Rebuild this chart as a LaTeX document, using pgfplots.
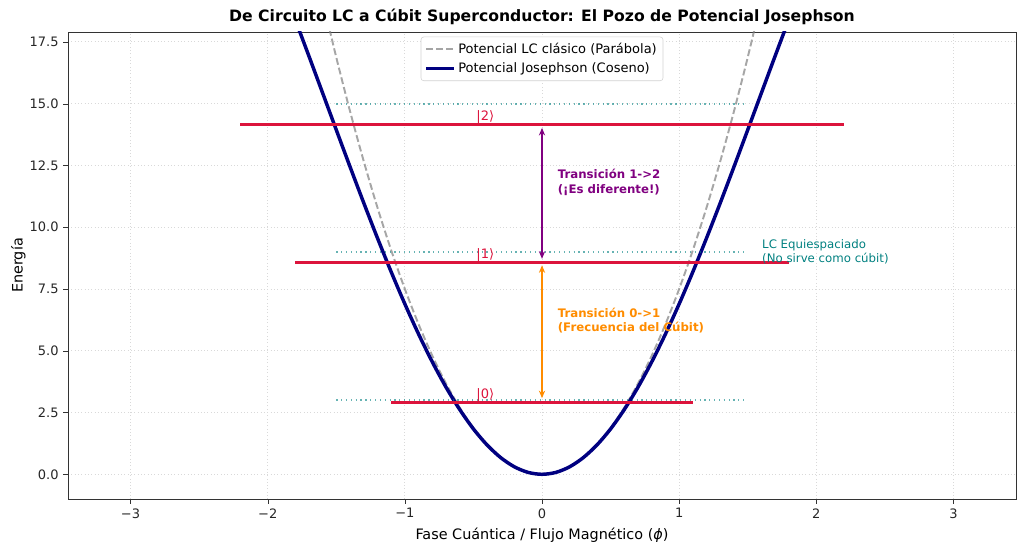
\documentclass[border=0pt]{standalone}
\usepackage{pgfplots}
\pgfplotsset{compat=1.18}
\usepackage{fontspec}
\setmainfont{DejaVu Sans}
\usetikzlibrary{arrows.meta}
\definecolor{navyc}{HTML}{000080}
\definecolor{crimsonc}{HTML}{DC143C}
\definecolor{tealc}{HTML}{008080}
\definecolor{orangec}{HTML}{FF8C00}
\definecolor{purplec}{HTML}{800080}
\begin{document}
\begin{tikzpicture}
\begin{axis}[name=ax,
  scale only axis, width=9.48in, height=4.67in,
  xmin=-3.456, xmax=3.456, ymin=-1, ymax=17.9,
  axis line style={black!80},
  tick align=outside, major tick length=3.3pt,
  xtick pos=left, ytick pos=left,
  tick style={black!80},
  xtick={-3,-2,-1,0,1,2,3},
  xticklabels={−3,−2,−1,0,1,2,3},
  ytick={0,2.5,5,7.5,10,12.5,15,17.5},
  yticklabels={0.0,2.5,5.0,7.5,10.0,12.5,15.0,17.5},
  ticklabel style={font=\fontsize{9.4}{11}\selectfont, text=black!85},
  grid=major, grid style={dotted, gray!30, line width=0.6pt},
  xlabel={Fase Cuántica / Flujo Magnético ({\itshape ϕ})},
  ylabel={Energía},
  label style={font=\fontsize{10.4}{12}\selectfont},
  ylabel style={yshift=-4pt},
  title={\bfseries De Circuito LC a Cúbit Superconductor: El Pozo de Potencial Josephson},
  title style={font=\fontsize{11.3}{13}\selectfont, yshift=-4pt},
  legend style={at={(0.5,0.99)}, anchor=north, draw=gray!35, rounded corners=2pt,
    font=\fontsize{9.4}{11}\selectfont, inner sep=2.5pt, row sep=1pt},
  legend cell align=left,
  legend image code/.code={\draw[#1] (0cm,0cm) -- (0.7cm,0cm);},
  clip=true,
]
\addplot[gray, opacity=0.7, dashed, line width=1.4pt, dash pattern=on 5pt off 2.2pt, smooth] coordinates {
(-1.6,19.2)(-1.5,16.875)(-1.4,14.7)(-1.3,12.675)(-1.2,10.8)(-1.1,9.075)(-1.0,7.5)(-0.9,6.075)(-0.8,4.8)(-0.7,3.675)(-0.6,2.7)(-0.5,1.875)(-0.4,1.2)(-0.3,0.675)(-0.2,0.3)(-0.1,0.075)(0,0)
(0.1,0.075)(0.2,0.3)(0.3,0.675)(0.4,1.2)(0.5,1.875)(0.6,2.7)(0.7,3.675)(0.8,4.8)(0.9,6.075)(1.0,7.5)(1.1,9.075)(1.2,10.8)(1.3,12.675)(1.4,14.7)(1.5,16.875)(1.6,19.2)};
\addlegendentry{Potencial LC clásico (Parábola)}
\addplot[navyc, line width=2.5pt, smooth] coordinates {
(-2.0,21.242)(-1.9,19.849)(-1.8,18.408)(-1.7,16.933)(-1.6,15.438)(-1.5,13.939)(-1.4,12.451)(-1.3,10.988)(-1.2,9.565)(-1.1,8.196)(-1.0,6.895)(-0.9,5.676)(-0.8,4.549)(-0.7,3.527)(-0.6,2.620)(-0.5,1.836)(-0.4,1.184)(-0.3,0.670)(-0.2,0.299)(-0.1,0.075)(0,0)
(0.1,0.075)(0.2,0.299)(0.3,0.670)(0.4,1.184)(0.5,1.836)(0.6,2.620)(0.7,3.527)(0.8,4.549)(0.9,5.676)(1.0,6.895)(1.1,8.196)(1.2,9.565)(1.3,10.988)(1.4,12.451)(1.5,13.939)(1.6,15.438)(1.7,16.933)(1.8,18.408)(1.9,19.849)(2.0,21.242)};
\addlegendentry{Potencial Josephson (Coseno)}
% LC equispaced levels
\addplot[tealc, opacity=0.6, line width=1.4pt, dash pattern=on 0.9pt off 2.6pt, forget plot] coordinates {(-1.5,3)(1.5,3)};
\addplot[tealc, opacity=0.6, line width=1.4pt, dash pattern=on 0.9pt off 2.6pt, forget plot] coordinates {(-1.5,9)(1.5,9)};
\addplot[tealc, opacity=0.6, line width=1.4pt, dash pattern=on 0.9pt off 2.6pt, forget plot] coordinates {(-1.5,15)(1.5,15)};
% Josephson levels
\addplot[crimsonc, line width=2pt, forget plot] coordinates {(-1.1,2.9)(1.1,2.9)};
\addplot[crimsonc, line width=2pt, forget plot] coordinates {(-1.8,8.57)(1.8,8.57)};
\addplot[crimsonc, line width=2pt, forget plot] coordinates {(-2.2,14.15)(2.2,14.15)};
\node[anchor=south west, inner sep=0pt, text=crimsonc, font=\fontsize{9.4}{11}\selectfont] at (axis cs:-0.48,2.93) {|0⟩};
\node[anchor=south west, inner sep=0pt, text=crimsonc, font=\fontsize{9.4}{11}\selectfont] at (axis cs:-0.48,8.6) {|1⟩};
\node[anchor=south west, inner sep=0pt, text=crimsonc, font=\fontsize{9.4}{11}\selectfont] at (axis cs:-0.48,14.18) {|2⟩};
% arrows
\draw[orangec, line width=1.5pt, {Stealth[length=5.5pt,width=4.5pt]}-{Stealth[length=5.5pt,width=4.5pt]}] (axis cs:0,3.08) -- (axis cs:0,8.46);
\draw[purplec, line width=1.5pt, {Stealth[length=5.5pt,width=4.5pt]}-{Stealth[length=5.5pt,width=4.5pt]}] (axis cs:0,8.72) -- (axis cs:0,14.02);
\node[anchor=west, align=left, text=purplec, font=\bfseries\fontsize{8.5}{10.4}\selectfont] at (axis cs:0.08,11.82) {Transición 1->2\\(¡Es diferente!)};
\node[anchor=west, align=left, text=orangec, font=\bfseries\fontsize{8.5}{10.4}\selectfont] at (axis cs:0.08,6.23) {Transición 0->1\\(Frecuencia del Cúbit)};
\node[anchor=west, align=left, text=tealc, font=\fontsize{8.5}{10.4}\selectfont] at (axis cs:1.57,9.0) {LC Equiespaciado\\(No sirve como cúbit)};
\end{axis}
\pgfresetboundingbox
\path[use as bounding box] ([shift={(-0.68in,-0.56in)}]ax.south west) rectangle ([shift={(0.08in,0.32in)}]ax.north east);
\end{tikzpicture}
\end{document}
